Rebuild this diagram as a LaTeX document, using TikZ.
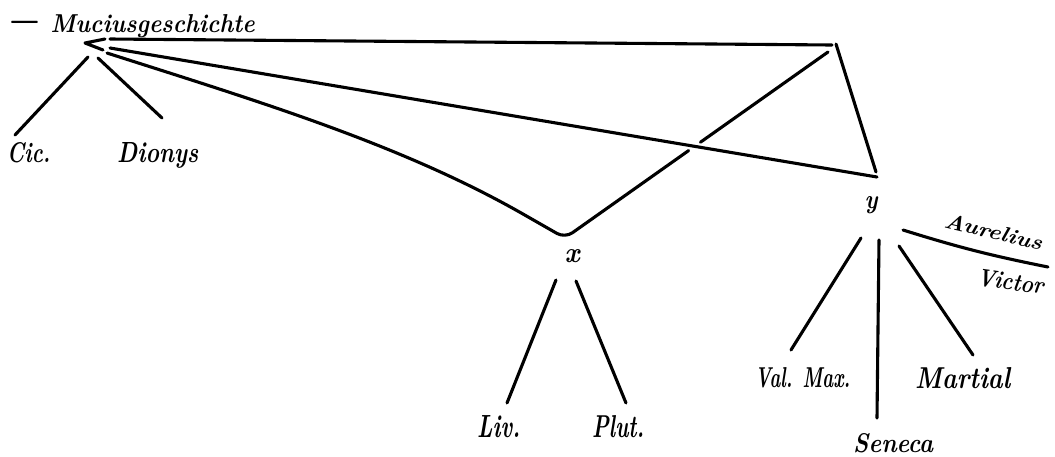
\documentclass[tikz,border=0pt]{standalone}
\usetikzlibrary{calc}
\tikzset{
  stroke/.style={line width=3.1pt, line cap=round, line join=round},
  lbl/.style={inner sep=0pt, font=\fontsize{26}{30}\selectfont\bfseries\itshape},
}
% word set to a given width and height above the baseline
\newcommand{\wordbox}[3]{\resizebox{#1}{#2}{#3}}
\begin{document}
\begin{tikzpicture}[x=1pt,y=-1pt]
\useasboundingbox[fill=white] (0,0) rectangle (1055,456);

% labels
\node[lbl,anchor=base west] (title) at (8,32) {\raisebox{-7pt}{\scalebox{0.96}[2.4]{—}}\hspace{13pt}\wordbox{204pt}{18pt}{Muciusgeschichte}};
\node[lbl,anchor=base west] (cic) at (7,162) {\wordbox{43pt}{20pt}{Cic.}};
\node[lbl,anchor=base west] (dionys) at (117,162) {\wordbox{81pt}{20pt}{Dionys}};
\node[lbl,anchor=base] (nx) at (572,262) {\wordbox{15pt}{13pt}{x}};
\node[lbl,anchor=base] (ny) at (871,208) {\wordbox{13pt}{12pt}{y}};
\node[lbl,anchor=base west,rotate=-13.6] (aur) at (943,227) {\wordbox{100pt}{15pt}{Aurelius}};
\node[lbl,anchor=base west,rotate=-8] (vic) at (976,285) {\wordbox{67pt}{17pt}{Victor}};
\node[lbl,anchor=base west] (val) at (755,387) {\wordbox{95pt}{20pt}{Val. Max.}};
\node[lbl,anchor=base west] (mart) at (915,388) {\wordbox{95pt}{21pt}{Martial}};
\node[lbl,anchor=base west] (sen) at (853,452) {\wordbox{80pt}{19pt}{Seneca}};
\node[lbl,anchor=base west] (liv) at (477,437) {\wordbox{43pt}{22pt}{Liv.}};
\node[lbl,anchor=base west] (plut) at (592,437) {\wordbox{52pt}{22pt}{Plut.}};

% junction points
\coordinate (apex) at (85,43);
\coordinate (armU) at (105,39);
\coordinate (armL) at (103,50);
\coordinate (topS) at (110,39);
\coordinate (tr) at (832,45);
\coordinate (trR) at (836,44);
\coordinate (midS) at (110,48);
\coordinate (yTop) at (877,177);
\coordinate (yTopR) at (876,172);
\coordinate (lowS) at (107,53);
\coordinate (xArm) at (530,218);
\coordinate (vb) at (565,238);
\coordinate (xTop) at (828,52);
\coordinate (cicT) at (88,57);
\coordinate (cicB) at (15,135);
\coordinate (dioT) at (98,58);
\coordinate (dioB) at (162,118);
\coordinate (livT) at (556,280);
\coordinate (livB) at (507,403);
\coordinate (plutT) at (576,281);
\coordinate (plutB) at (626,403);
\coordinate (valT) at (861,238);
\coordinate (valB) at (791,350);
\coordinate (senT) at (879,240);
\coordinate (senB) at (877,418);
\coordinate (marT) at (899,246);
\coordinate (marB) at (973,355);
\coordinate (aurT) at (903,230);
\coordinate (aurB) at (1048,267);

% upper tree
\draw[stroke] (armL) -- (apex) -- (armU);
\draw[stroke] (topS) -- (tr);
\draw[stroke] (trR) -- (yTopR);
\draw[stroke] (midS) -- (yTop);
\draw[stroke, rounded corners=9pt] (lowS) .. controls (257,101) and (400,144) .. (xArm)
  -- (vb) -- ($(vb)!0.47!(xTop)$);
\draw[stroke] ($(vb)!0.515!(xTop)$) -- (xTop);
\draw[stroke] (cicT) -- (cicB);
\draw[stroke] (dioT) -- (dioB);

% branches of x
\draw[stroke] (livT) -- (livB);
\draw[stroke] (plutT) -- (plutB);

% branches of y
\draw[stroke] (valT) -- (valB);
\draw[stroke] (senT) -- (senB);
\draw[stroke] (marT) -- (marB);
\draw[stroke] (aurT) to[bend right=3] (aurB);
\end{tikzpicture}
\end{document}
